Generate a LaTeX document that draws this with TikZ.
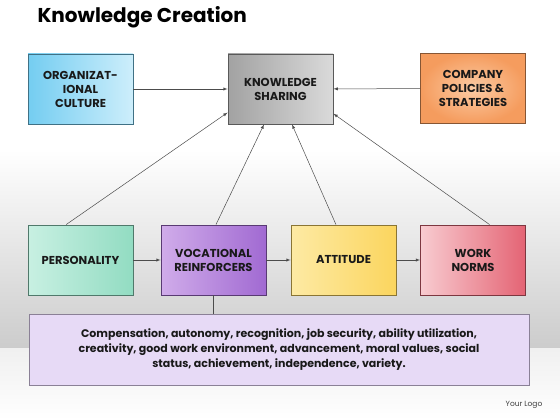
\documentclass[tikz,border=0pt]{standalone}
\usepackage{fontspec}
\setmainfont{Poppins}
\definecolor{orgA}{HTML}{74CDF1}
\definecolor{orgB}{HTML}{CDEEFB}
\definecolor{ksA}{HTML}{A2A2A2}
\definecolor{ksB}{HTML}{DADADA}
\definecolor{compA}{HTML}{F59C5E}
\definecolor{compB}{HTML}{FBCBA4}
\definecolor{persA}{HTML}{92DCC2}
\definecolor{persB}{HTML}{C8F0E2}
\definecolor{vocA}{HTML}{A16AD2}
\definecolor{vocB}{HTML}{D0ACEA}
\definecolor{attA}{HTML}{FBD55E}
\definecolor{attB}{HTML}{FDEAA4}
\definecolor{normA}{HTML}{E46474}
\definecolor{normB}{HTML}{F8CBD0}
\definecolor{listA}{HTML}{E7DAF6}
\definecolor{listB}{HTML}{8A8096}
\begin{document}
\begin{tikzpicture}[x=1pt,y=-1pt,
    kbox/.style={draw=#1!55!black,line width=0.9pt,minimum width=105pt,minimum height=70pt,
      align=center,text=black!90,font=\fontsize{11.5}{14}\selectfont\bfseries},
    kbox/.default=gray,
    link/.style={->,>=latex,draw=black!70,line width=0.5pt}]
    % background
    \fill[white] (0,0) rectangle (560,420);
    \fill[top color=white,bottom color=black!20] (0,150) rectangle (560,348);
    \fill[top color=black!6,bottom color=white] (0,348) rectangle (560,420);
    \node[anchor=base west,font=\fontsize{20}{22}\selectfont\bfseries] (title) at (34,23) {Knowledge Creation};
    % top row
    \node[kbox=orgA,left color=orgA,right color=orgB] (org) at (80.5,89) {ORGANIZAT-\\IONAL\\CULTURE};
    \node[kbox=ksA,left color=ksA,right color=ksB] (ks) at (280.5,89) {KNOWLEDGE\\SHARING};
    \node[kbox=compA,inner color=compB,outer color=compA] (comp) at (473,88.5) {COMPANY\\POLICIES \&\\STRATEGIES};
    % bottom row
    \node[kbox=persA,left color=persB,right color=persA] (pers) at (80.5,260) {PERSONALITY};
    \node[kbox=vocA,left color=vocB,right color=vocA] (voc) at (213.5,260) {VOCATIONAL\\REINFORCERS};
    \node[kbox=attA,left color=attB,right color=attA] (att) at (343.5,260) {ATTITUDE};
    \node[kbox=normA,left color=normB,right color=normA] (norms) at (473,260) {WORK\\NORMS};
    \node[draw=listB,fill=listA,line width=0.9pt,minimum width=500pt,minimum height=71pt,align=center,
      text=black!90,font=\fontsize{11}{15}\selectfont\bfseries] (list) at (279,349.5)
      {Compensation, autonomy, recognition, job security, ability utilization,\\
       creativity, good work environment, advancement, moral values, social\\
       status, achievement, independence, variety.};
    \node[font=\fontsize{7.5}{9}\selectfont,text=black!75] (logo) at (524,405) {Your Logo};
    % links
    \draw[link] (org) -- (ks);
    \draw[link] (comp) -- (ks);
    \draw[link] (pers) -- (voc);
    \draw[link] (voc) -- (att);
    \draw[link] (att) -- (norms);
    \draw[link] (pers.112) -- (ks.204);
    \draw[link] (voc.86) -- (ks.245);
    \draw[link] (att.102) -- (ks.288);
    \draw[link] (norms.65) -- (ks.-25);
    \draw[draw=black!70,line width=0.5pt] (voc.south) -- (voc.south |- list.north);
\end{tikzpicture}
\end{document}
